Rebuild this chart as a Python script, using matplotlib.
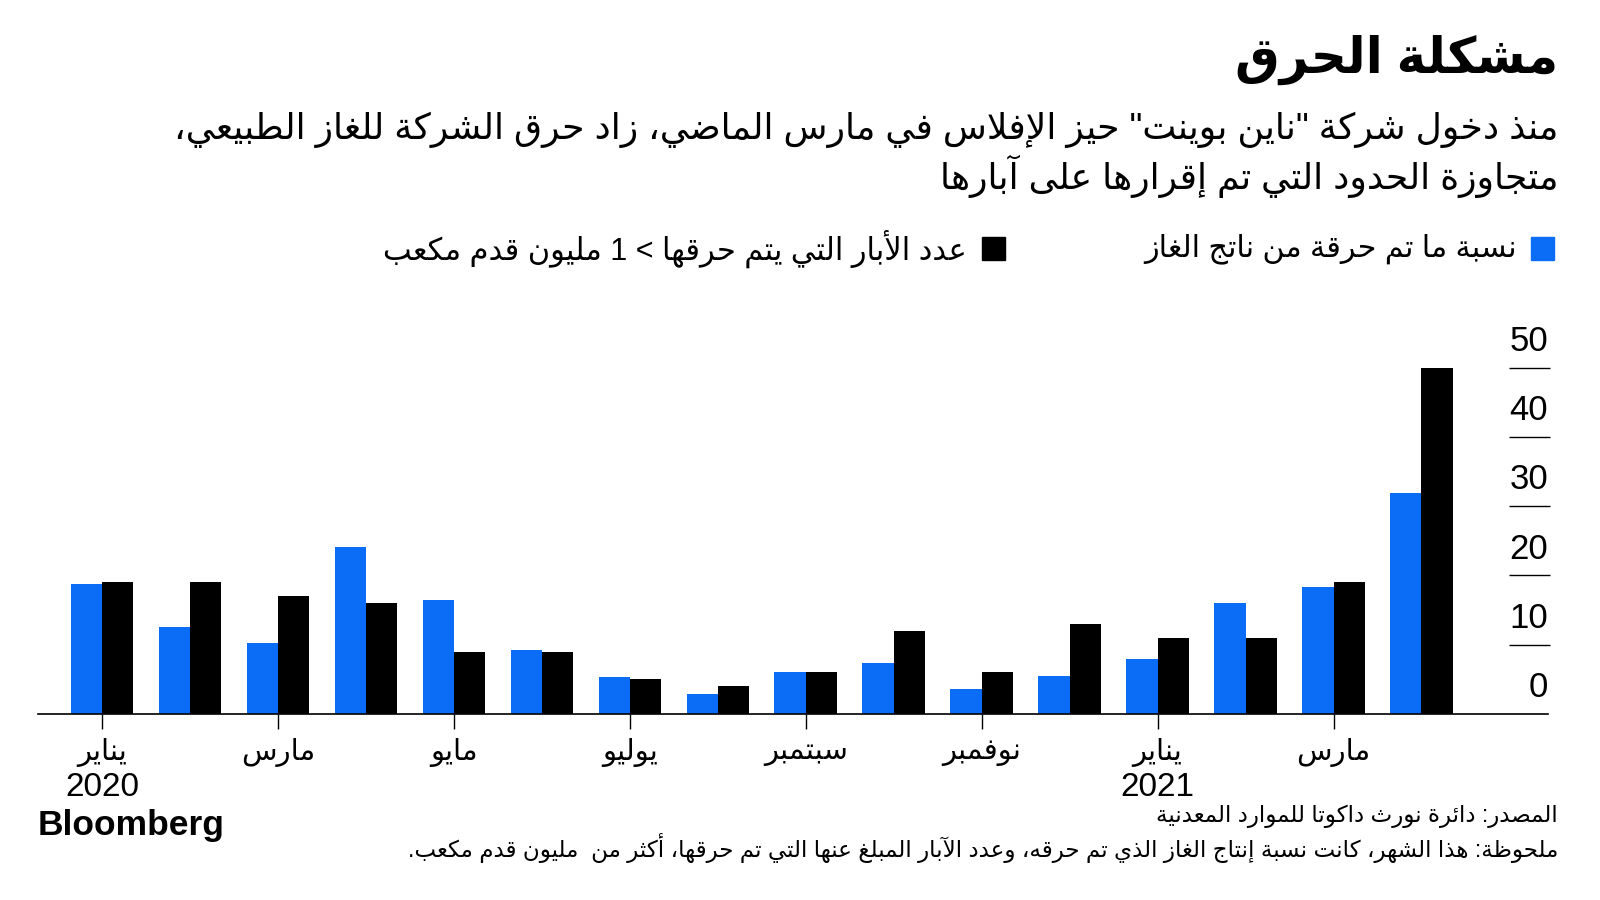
import re
import matplotlib
matplotlib.use("Agg")
import matplotlib.pyplot as plt
from matplotlib.patches import Rectangle

# data, Jan 2020 .. Apr 2021
months = ["يناير", "", "مارس", "", "مايو", "", "يوليو", "",
          "سبتمبر", "", "نوفمبر", "", "يناير", "", "مارس", ""]
years = {0: "2020", 12: "2021"}
flared_pct = [18.8, 12.5, 10.2, 24.1, 16.4, 9.2, 5.4, 2.9, 6.0, 7.4, 3.6, 5.5, 8.0, 16.0, 18.3, 31.9]
wells_flared = [19, 19, 17, 16, 9, 9, 5, 4, 6, 12, 6, 13, 11, 11, 19, 50]
y_ticks = [0, 10, 20, 30, 40, 50]

TITLE = "مشكلة الحرق"
SUBTITLE = ['منذ دخول شركة "ناين بوينت" حيز الإفلاس في مارس الماضي، زاد حرق الشركة للغاز الطبيعي،',
            "متجاوزة الحدود التي تم إقرارها على آبارها"]
LEG_BLUE = "نسبة ما تم حرقة من ناتج الغاز"
LEG_BLACK = "عدد الأبار التي يتم حرقها > 1 مليون قدم مكعب"
SOURCE = "المصدر: دائرة نورث داكوتا للموارد المعدنية"
NOTE = "ملحوظة: هذا الشهر، كانت نسبة إنتاج الغاز الذي تم حرقه، وعدد الآبار المبلغ عنها التي تم حرقها، أكثر من  مليون قدم مكعب."

BLUE = "#0B6DF6"

# --- minimal arabic shaping (matplotlib does no shaping / bidi) ---
FORMS = {'ء': 0xFE80, 'آ': 0xFE81, 'أ': 0xFE83, 'ؤ': 0xFE85, 'إ': 0xFE87, 'ئ': 0xFE89,
         'ا': 0xFE8D, 'ب': 0xFE8F, 'ة': 0xFE93, 'ت': 0xFE95, 'ث': 0xFE99, 'ج': 0xFE9D,
         'ح': 0xFEA1, 'خ': 0xFEA5, 'د': 0xFEA9, 'ذ': 0xFEAB, 'ر': 0xFEAD, 'ز': 0xFEAF,
         'س': 0xFEB1, 'ش': 0xFEB5, 'ص': 0xFEB9, 'ض': 0xFEBD, 'ط': 0xFEC1, 'ظ': 0xFEC5,
         'ع': 0xFEC9, 'غ': 0xFECD, 'ف': 0xFED1, 'ق': 0xFED5, 'ك': 0xFED9, 'ل': 0xFEDD,
         'م': 0xFEE1, 'ن': 0xFEE5, 'ه': 0xFEE9, 'و': 0xFEED, 'ى': 0xFEEF, 'ي': 0xFEF1}
DUAL = set('ئبتثجحخسشصضطظعغفقكلمنهي')
LAM_ALEF = {'آ': 0xFEF5, 'أ': 0xFEF7, 'إ': 0xFEF9, 'ا': 0xFEFB}
MIRROR = {'(': ')', ')': '(', '<': '>', '>': '<'}


def shape(text):
    chars = []
    i = 0
    while i < len(text):
        if text[i] == 'ل' and i + 1 < len(text) and text[i + 1] in LAM_ALEF:
            chars.append(('LA', text[i + 1]))
            i += 2
        else:
            chars.append(text[i])
            i += 1
    out = ''
    for k, ch in enumerate(chars):
        prev = chars[k - 1] if k > 0 else None
        nxt = chars[k + 1] if k + 1 < len(chars) else None
        pj = isinstance(prev, str) and prev in DUAL
        if isinstance(ch, tuple):
            out += chr(LAM_ALEF[ch[1]] + (1 if pj else 0))
            continue
        if ch not in FORMS:
            out += ch
            continue
        base = FORMS[ch]
        nj = (isinstance(nxt, tuple) or (nxt in FORMS and nxt != 'ء')) if nxt is not None else False
        if ch in DUAL:
            if pj and nj:
                code = base + 3
            elif pj:
                code = base + 1
            elif nj:
                code = base + 2
            else:
                code = base
        elif ch == 'ء':
            code = base
        else:
            code = base + (1 if pj else 0)
        out += chr(code)
    return out


def ar(text):
    lines = []
    for line in text.split('\n'):
        parts = re.split(r'([0-9A-Za-z]+)', shape(line))
        vis = ''
        for p in reversed(parts):
            if re.fullmatch(r'[0-9A-Za-z]+', p):
                vis += p
            else:
                vis += ''.join(MIRROR.get(c, c) for c in reversed(p))
        lines.append(vis)
    return '\n'.join(lines)


plt.rcParams['font.family'] = ['Liberation Sans', 'DejaVu Sans']

fig = plt.figure(figsize=(16, 9), dpi=100)
ax = fig.add_axes([0.0236, 0.2067, 0.944, 0.4233])

x = list(range(len(months)))
w = 0.355
ax.bar([i - w / 2 for i in x], flared_pct, width=w, color=BLUE)
ax.bar([i + w / 2 for i in x], wells_flared, width=w, color="black")

ax.set_xlim(-0.73, 16.44)
ax.set_ylim(0, 55)
for s in ['top', 'left', 'right']:
    ax.spines[s].set_visible(False)
ax.spines['bottom'].set_linewidth(1.2)
ax.set_yticks([])

tick_pos = [i for i in x if months[i]]
ax.set_xticks(tick_pos)
ax.set_xticklabels([ar(months[i]) for i in tick_pos], fontsize=21)
ax.tick_params(axis='x', length=11, width=1, pad=6)
for i, yr in years.items():
    ax.annotate(yr, (i, 0), xytext=(0, -53), textcoords="offset points",
                ha="center", va="center", fontsize=24, annotation_clip=False)

for v in y_ticks:
    if v > 0:
        ax.hlines(v, 16.0, 16.46, color="black", lw=1, clip_on=False)
    ax.annotate(str(v), (16.44, v), xytext=(0, 19), textcoords="offset points",
                ha="right", va="center", fontsize=25, annotation_clip=False)

# header
fig.text(0.97375, 0.934, ar(TITLE), ha="right", va="center", fontsize=36, weight="bold")
fig.text(0.97375, 0.8556, ar(SUBTITLE[0]), ha="right", va="center", fontsize=26)
fig.text(0.97375, 0.8044, ar(SUBTITLE[1]), ha="right", va="center", fontsize=26)

# legend
fig.add_artist(Rectangle((0.9569, 0.7111), 0.0144, 0.0256, color=BLUE, transform=fig.transFigure))
fig.text(0.948, 0.7233, ar(LEG_BLUE), ha="right", va="center", fontsize=21.8)
fig.add_artist(Rectangle((0.6138, 0.7111), 0.0144, 0.0256, color="black", transform=fig.transFigure))
fig.text(0.6044, 0.7233, ar(LEG_BLACK), ha="right", va="center", fontsize=22)

# footer
fig.text(0.97375, 0.0933, ar(SOURCE), ha="right", va="center", fontsize=16.6)
fig.text(0.97375, 0.0578, ar(NOTE), ha="right", va="center", fontsize=16.6)
fig.text(0.02375, 0.0833, "Bloomberg", ha="left", va="center", fontsize=25.5, weight="bold")

fig.savefig("out.png", dpi=100, facecolor="white")
